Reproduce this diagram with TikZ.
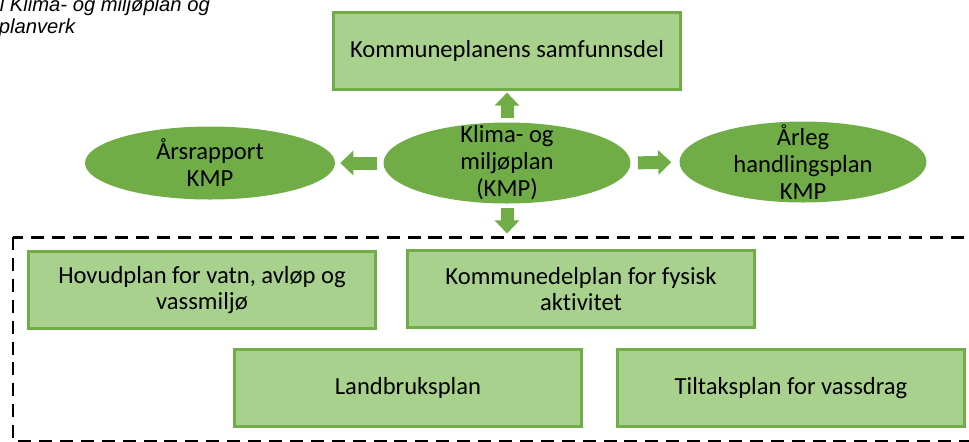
\documentclass[tikz,border=0pt]{standalone}
\usepackage{fontspec}
\setmainfont{Carlito}[Ligatures=NoCommon]
\newfontfamily\capfont{Liberation Sans}
\usepackage{xcolor}
\usepackage{tikz}
\usetikzlibrary{positioning, shapes.geometric, arrows.meta}
\definecolor{boxfill}{HTML}{A9D18E}
\definecolor{boxline}{HTML}{70AD47}
\definecolor{ellfill}{HTML}{70AD47}
\tikzset{
  planbox/.style={draw=boxline, fill=boxfill, line width=1.5pt,
                  minimum width=6.94cm, minimum height=1.54cm,
                  align=center, inner sep=2pt,
                  font=\fontsize{14}{15.3}\selectfont},
  planell/.style={ellipse, fill=ellfill, draw=none,
                  minimum width=4.94cm, minimum height=1.62cm,
                  align=center, inner xsep=0pt, inner ysep=-40pt,
                  font=\fontsize{14}{15.3}\selectfont},
  flowarrow/.style={-{Triangle[width=13.6pt, length=7.4pt]},
                    line width=7.4pt, draw=ellfill}
}
\begin{document}
\begin{tikzpicture}[
    x=0.02cm, y=-0.02cm,
    planframe/.style={line width=1.7pt, dash pattern=on 7.4pt off 4.5pt},
    captext/.style={anchor=base west, inner sep=0pt,
                    font=\capfont\itshape\fontsize{11.5}{12.5}\selectfont}
]
\useasboundingbox (0,0) rectangle (969,441);
% caption, cut off at the page edge
\node[captext] (cap1) at (-0.5,11) {l Klima- og miljøplan og};
\node[captext] (cap2) at (-1.5,33) {planverk};
% top row
\node[planbox] (samf) at (507,51) {Kommuneplanens samfunnsdel};
\node[planell] (kmp) at (507,163) {Klima- og\\miljøplan\\(KMP)};
\node[planell, minimum width=5cm, minimum height=1.46cm] (ars) at (210,163) {Årsrapport\\KMP};
\node[planell] (hand) at (803,162) {Årleg\\handlingsplan\\KMP};
% planverk
\draw[planframe] (13,237) rectangle (985,441);
\coordinate (plantop) at (507,237);
\node[planbox] (hovud) at (202,290) {Hovudplan for vatn, avløp og\\vassmiljø};
\node[planbox] (kdp) at (581,289) {Kommunedelplan for fysisk\\aktivitet};
\node[planbox] (land) at (408,388) {Landbruksplan};
\node[planbox] (tilt) at (791,388) {Tiltaksplan for vassdrag};
% arrows
\draw[flowarrow, shorten <=2.5pt, shorten >=1pt] (kmp.north) -- (samf.south);
\draw[flowarrow, shorten <=3.4pt, shorten >=2.8pt] (kmp.west) -- (ars.east);
\draw[flowarrow, shorten <=4pt, shorten >=4.5pt] (kmp.east) -- (hand.west);
\draw[flowarrow, shorten <=2.5pt, shorten >=2pt] (kmp.south) -- (plantop);
\end{tikzpicture}
\end{document}
